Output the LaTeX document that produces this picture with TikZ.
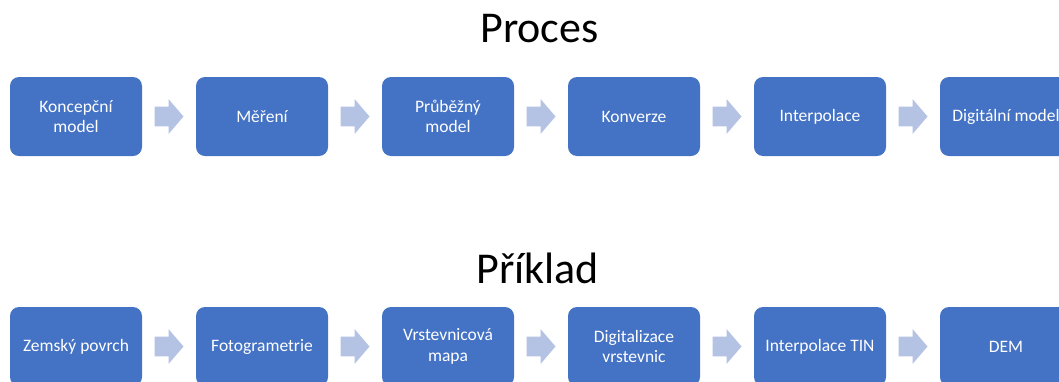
\documentclass[tikz,border=0pt]{standalone}
\usepackage{fontspec}
\setmainfont{Carlito}
\usetikzlibrary{calc}
\definecolor{boxblue}{HTML}{4472C4}
\definecolor{arrowblue}{HTML}{B4C2E4}
\tikzset{
  stepbox/.style={fill=boxblue, draw=none, rounded corners=9pt, minimum width=132pt, minimum height=79pt,
    inner sep=2pt, text=white, align=center, font=\fontsize{17.5}{20.5}\selectfont},
  flowarrow/.style={fill=arrowblue, draw=none},
  titletext/.style={font=\fontsize{44}{50}\selectfont, anchor=base, text=black, inner sep=0pt}
}
\begin{document}
\begin{tikzpicture}[x=1pt,y=-1pt]
\useasboundingbox (0,0) rectangle (1059,381);
\clip (0,0) rectangle (1059,381);
\node[titletext] (t1) at (539.5,42) {Proces};
\node[titletext] (t2) at (537.5,283) {Příklad};
% top row
\node[stepbox] (a1) at (76,116.5) {Koncepční\\model};
\node[stepbox] (a2) at (262,116.5) {Měření};
\node[stepbox] (a3) at (448,116.5) {Průběžný\\model};
\node[stepbox] (a4) at (634,116.5) {Konverze};
\node[stepbox] (a5) at (820,116.5) {Interpolace};
\node[stepbox] (a6) at (1006,116.5) {Digitální model};
% bottom row
\node[stepbox] (b1) at (76,346.5) {Zemský povrch};
\node[stepbox] (b2) at (262,346.5) {Fotogrametrie};
\node[stepbox] (b3) at (448,346.5) {Vrstevnicová\\mapa};
\node[stepbox] (b4) at (634,346.5) {Digitalizace\\vrstevnic};
\node[stepbox] (b5) at (820,346.5) {Interpolace TIN};
\node[stepbox] (b6) at (1006,346.5) {DEM};
% arrows
\foreach \r in {a,b}{
  \foreach \i/\j in {1/2,2/3,3/4,4/5,5/6}{
    \coordinate (\r\i\j) at ($(\r\i.east)!0.5!(\r\j.west)$);
    \fill[flowarrow] ($(\r\i\j)+(-14.5,-9.8)$) -- ($(\r\i\j)+(-0.5,-9.8)$) -- ($(\r\i\j)+(-0.5,-17.5)$)
      -- ($(\r\i\j)+(14.5,0)$) -- ($(\r\i\j)+(-0.5,17.5)$) -- ($(\r\i\j)+(-0.5,9.8)$)
      -- ($(\r\i\j)+(-14.5,9.8)$) -- cycle;
  }
}
\end{tikzpicture}
\end{document}
